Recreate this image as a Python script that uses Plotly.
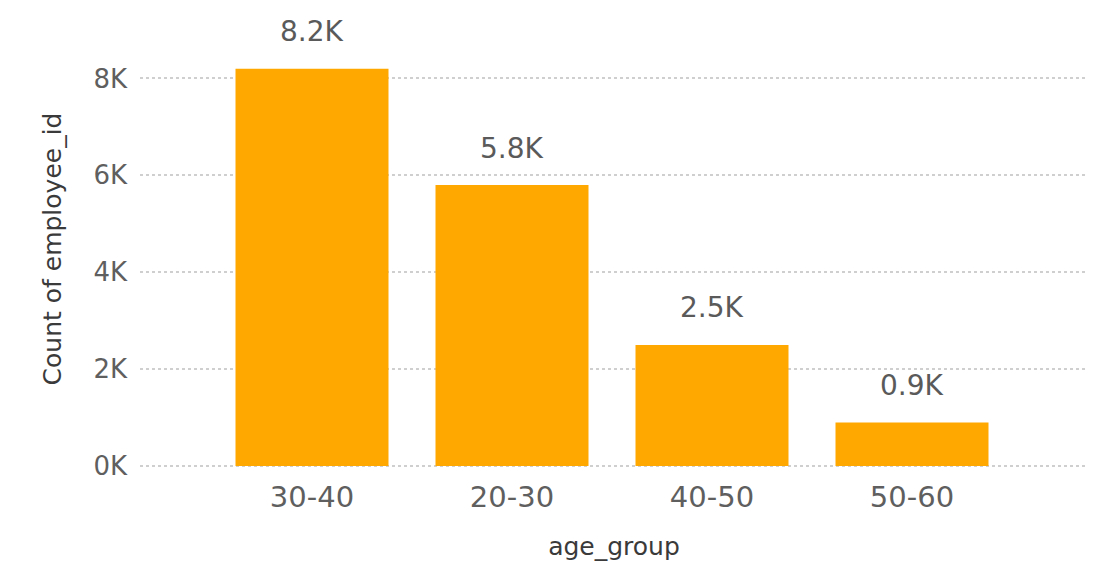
import plotly.graph_objects as go

categories = ["30-40", "20-30", "40-50", "50-60"]
counts = [8200, 5800, 2500, 900]
labels = ["8.2K", "5.8K", "2.5K", "0.9K"]
y_tick_vals = [0, 2000, 4000, 6000, 8000]
y_tick_text = ["0K", "2K", "4K", "6K", "8K"]

FONT = "DejaVu Sans"
BAR_COLOR = "#FFA800"

fig = go.Figure()
fig.add_trace(go.Bar(
    x=list(range(len(categories))),
    y=counts,
    width=0.765,
    marker=dict(color=BAR_COLOR, line=dict(width=0)),
    hoverinfo="skip",
))

for i, (v, t) in enumerate(zip(counts, labels)):
    fig.add_annotation(
        x=i, y=v, text=t, showarrow=False,
        yanchor="middle", yshift=37,
        font=dict(family=FONT, size=28, color="#5a5a5a"),
    )

fig.update_layout(
    width=1104, height=562,
    margin=dict(l=140, r=16, t=30, b=94),
    paper_bgcolor="white", plot_bgcolor="white",
    showlegend=False,
    bargap=0.2,
    font=dict(family=FONT),
)

fig.update_xaxes(
    range=[-0.86, 3.88],
    tickvals=list(range(len(categories))),
    ticktext=categories,
    tickfont=dict(family=FONT, size=29, color="#5f5f5f"),
    showgrid=False, zeroline=False, showline=False,
    ticks="", ticklabelstandoff=9, automargin=False,
    title=dict(text="age_group", font=dict(family=FONT, size=25, color="#3a3a3a"), standoff=24),
)

fig.update_yaxes(
    range=[-40, 9000],
    tickvals=y_tick_vals,
    ticktext=y_tick_text,
    tickfont=dict(family=FONT, size=26, color="#5f5f5f"),
    showgrid=True, gridcolor="#CFCFCF", griddash="dot", gridwidth=2,
    zeroline=False, showline=False, ticks="",
    ticklabelstandoff=12, automargin=False,
    title=dict(text="Count of employee_id", font=dict(family=FONT, size=25, color="#3a3a3a"), standoff=24),
)

fig.write_html("out.html")
